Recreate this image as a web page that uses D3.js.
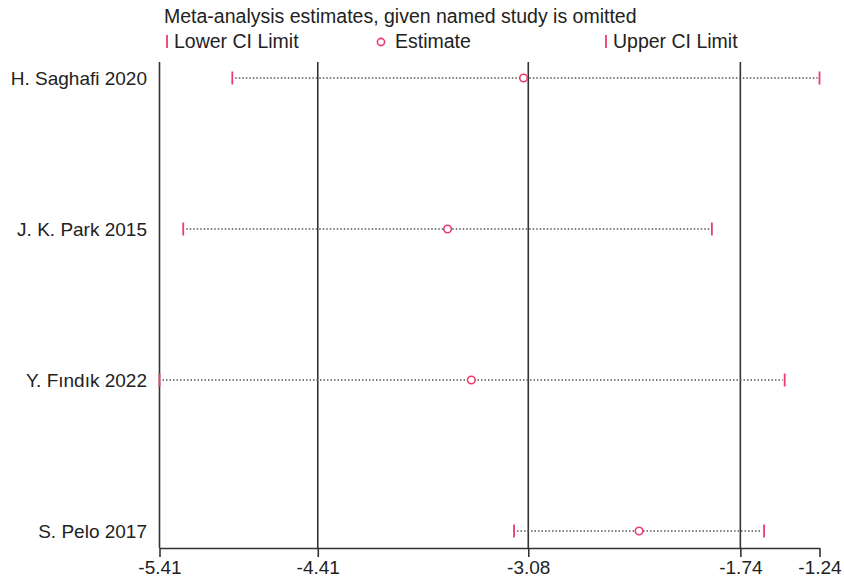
<!DOCTYPE html>
<html>
<head>
<meta charset="utf-8">
<script src="https://cdn.jsdelivr.net/npm/d3@7"></script>
<style>
  body { margin: 0; background: #fff; }
  svg { font-family: "Liberation Sans", Arial, sans-serif; }
</style>
</head>
<body>
<div id="chart"></div>
<script>
const studies = ['H. Saghafi 2020', 'J. K. Park 2015', 'Y. Fındık 2022', 'S. Pelo 2017'];
const lowerCI = [-4.95, -5.26, -5.41, -3.17];
const estimate = [-3.11, -3.59, -3.44, -2.38];
const upperCI = [-1.24, -1.92, -1.46, -1.59];
const tickValues = [-5.41, -4.41, -3.08, -1.74, -1.24];
const refLines = [-4.41, -3.08, -1.74];

const pink = '#ec3b6c';
const dark = '#333';
const fs = '19.5px';

let data = studies.map((s, i) => ({ study: s, lo: lowerCI[i], est: estimate[i], hi: upperCI[i] }));

let svg = d3.select('#chart')
            .append('svg')
                .attr('width', 844)
                .attr('height', 583);

let xScale = d3.scaleLinear()
               .domain([-5.41, -1.24])
               .range([159.5, 819.5]);

let yScale = d3.scalePoint()
               .domain(studies)
               .range([78, 531]);

let plotTop = 62, plotBottom = 548;

// Titulo e legenda
svg.append('text')
    .attr('x', 164)
    .attr('y', 23)
    .attr('font-size', fs)
    .attr('fill', '#222')
    .text('Meta-analysis estimates, given named study is omitted');

const legend = [
    { x: 167, dx: 7, label: 'Lower CI Limit', type: 'bar' },
    { x: 381, dx: 14, label: 'Estimate', type: 'circle' },
    { x: 606, dx: 7, label: 'Upper CI Limit', type: 'bar' }
];
legend.forEach(l => {
    if (l.type == 'bar') {
        svg.append('line')
            .attr('x1', l.x).attr('x2', l.x)
            .attr('y1', 35).attr('y2', 48)
            .attr('stroke', pink).attr('stroke-width', 1.8);
    } else {
        svg.append('circle')
            .attr('cx', l.x).attr('cy', 42)
            .attr('r', 3.6)
            .attr('fill', 'none')
            .attr('stroke', pink).attr('stroke-width', 1.6);
    }
    svg.append('text')
        .attr('x', l.x + l.dx)
        .attr('y', 48)
        .attr('font-size', fs)
        .attr('fill', '#222')
        .text(l.label);
});

// Linhas de referencia
svg.selectAll('.ref')
    .data(refLines)
    .enter()
    .append('line')
        .attr('x1', d => xScale(d)).attr('x2', d => xScale(d))
        .attr('y1', plotTop).attr('y2', plotBottom)
        .attr('stroke', dark).attr('stroke-width', 1.6);

// Eixo Y (so a linha)
svg.append('line')
    .attr('x1', xScale(-5.41)).attr('x2', xScale(-5.41))
    .attr('y1', plotTop).attr('y2', plotBottom)
    .attr('stroke', dark).attr('stroke-width', 1.6);

svg.selectAll('.label')
    .data(data)
    .enter()
    .append('text')
        .attr('x', 147)
        .attr('y', d => yScale(d.study))
        .attr('dy', '0.35em')
        .attr('text-anchor', 'end')
        .attr('font-size', '19px')
        .attr('fill', '#222')
        .text(d => d.study);

// Linhas pontilhadas
svg.selectAll('.ci')
    .data(data)
    .enter()
    .append('line')
        .attr('x1', d => xScale(d.lo) + 3)
        .attr('x2', d => xScale(d.hi) - 2)
        .attr('y1', d => yScale(d.study))
        .attr('y2', d => yScale(d.study))
        .attr('stroke', '#555')
        .attr('stroke-width', 1.3)
        .attr('stroke-dasharray', '1.5,2');

['lo', 'hi'].forEach(k => {
    svg.selectAll('.bar-' + k)
        .data(data)
        .enter()
        .append('line')
            .attr('x1', d => xScale(d[k]))
            .attr('x2', d => xScale(d[k]))
            .attr('y1', d => yScale(d.study) - 6.5)
            .attr('y2', d => yScale(d.study) + 6.5)
            .attr('stroke', pink)
            .attr('stroke-width', 1.8);
});

svg.selectAll('.est')
    .data(data)
    .enter()
    .append('circle')
        .attr('cx', d => xScale(d.est))
        .attr('cy', d => yScale(d.study))
        .attr('r', 3.8)
        .attr('fill', '#fff')
        .attr('stroke', pink)
        .attr('stroke-width', 1.6);

// Eixo X
let xAxis = d3.axisBottom()
              .scale(xScale)
              .tickValues(tickValues)
              .tickFormat(d => d.toFixed(2))
              .tickSize(9)
              .tickSizeOuter(0);

let gx = svg.append('g')
    .attr('transform', `translate(0,${plotBottom})`)
    .call(xAxis);

gx.select('.domain').attr('stroke', dark).attr('stroke-width', 1.6);
gx.selectAll('.tick line').attr('stroke', dark).attr('stroke-width', 1.6);
gx.selectAll('.tick text')
    .attr('font-family', '"Liberation Sans", Arial, sans-serif')
    .attr('font-size', '19px')
    .attr('fill', '#222')
    .attr('y', 13);
</script>
</body>
</html>
